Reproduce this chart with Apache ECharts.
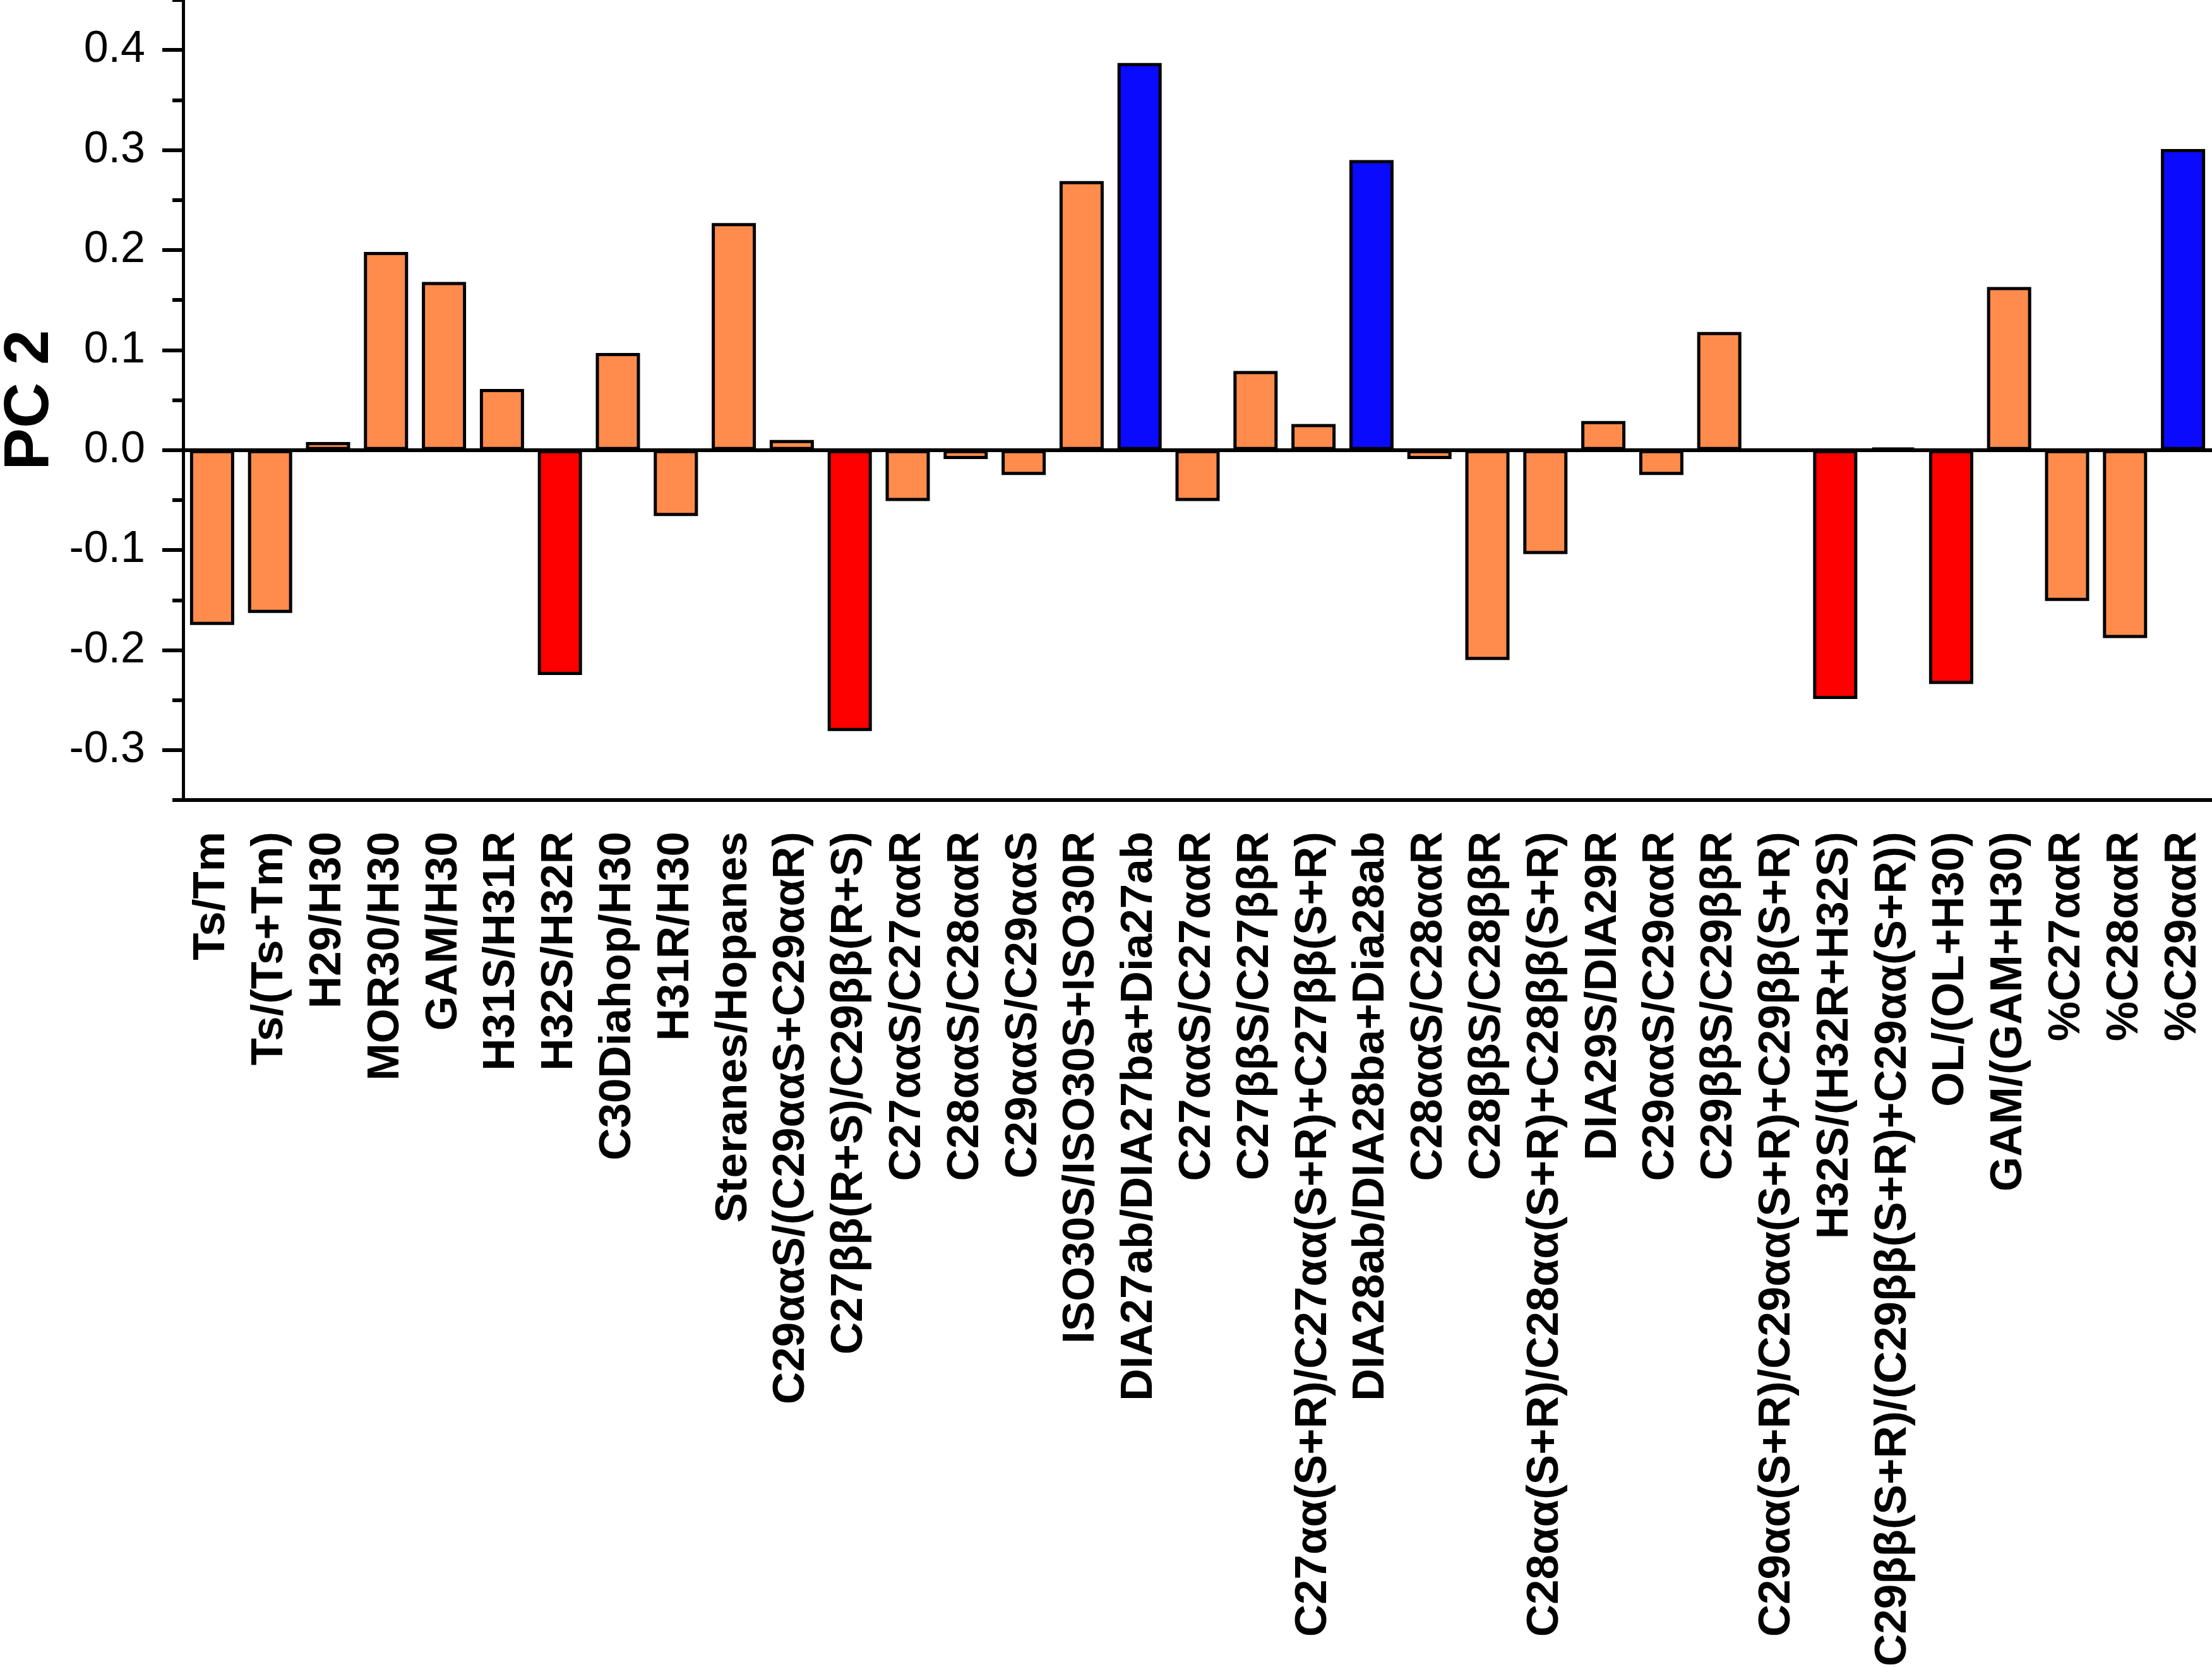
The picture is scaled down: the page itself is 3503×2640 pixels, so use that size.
<!DOCTYPE html>
<html>
<head>
<meta charset="utf-8">
<title>PC 2 loadings</title>
<script src="https://cdn.jsdelivr.net/npm/echarts@6/dist/echarts.min.js"></script>
<style>
  html, body {margin: 0; padding: 0; background: #fff;}
  #chart {width: 3503px; height: 2640px;}
</style>
</head>
<body>
<div id="chart"></div>
<script>
const categories = [
  'Ts/Tm', 'Ts/(Ts+Tm)', 'H29/H30', 'MOR30/H30', 'GAM/H30', 'H31S/H31R', 'H32S/H32R',
  'C30Diahop/H30', 'H31R/H30', 'Steranes/Hopanes', 'C29ααS/(C29ααS+C29ααR)',
  'C27ββ(R+S)/C29ββ(R+S)', 'C27ααS/C27ααR', 'C28ααS/C28ααR', 'C29ααS/C29ααS',
  'ISO30S/ISO30S+ISO30R', 'DIA27ab/DIA27ba+Dia27ab', 'C27ααS/C27ααR', 'C27ββS/C27ββR',
  'C27αα(S+R)/C27αα(S+R)+C27ββ(S+R)', 'DIA28ab/DIA28ba+Dia28ab', 'C28ααS/C28ααR',
  'C28ββS/C28ββR', 'C28αα(S+R)/C28αα(S+R)+C28ββ(S+R)', 'DIA29S/DIA29R', 'C29ααS/C29ααR',
  'C29ββS/C29ββR', 'C29αα(S+R)/C29αα(S+R)+C29ββ(S+R)', 'H32S/(H32R+H32S)',
  'C29ββ(S+R)/(C29ββ(S+R)+C29αα(S+R))', 'OL/(OL+H30)', 'GAM/(GAM+H30)',
  '%C27ααR', '%C28ααR', '%C29ααR'
];

const pc2 = [
  -0.175, -0.163, 0.008, 0.198, 0.168, 0.061, -0.225,
  0.097, -0.066, 0.227, 0.010,
  -0.281, -0.051, -0.009, -0.025,
  0.269, 0.387, -0.051, 0.079,
  0.026, 0.290, -0.009,
  -0.210, -0.104, 0.029, -0.025,
  0.118, -0.001, -0.249,
  0.002, -0.234, 0.163,
  -0.151, -0.188, 0.301
];

// o = ordinary, r = strong negative, b = strong positive
const groups = [
  'o', 'o', 'o', 'o', 'o', 'o', 'r',
  'o', 'o', 'o', 'o',
  'r', 'o', 'o', 'o',
  'o', 'b', 'o', 'o',
  'o', 'b', 'o',
  'o', 'o', 'o', 'o',
  'o', 'o', 'r',
  'o', 'r', 'o',
  'o', 'o', 'b'
];

const yMajorTicks = [-0.3, -0.2, -0.1, 0.0, 0.1, 0.2, 0.3, 0.4];
const yMinorTicks = [-0.35, -0.25, -0.15, -0.05, 0.05, 0.15, 0.25, 0.35, 0.45];

const groupColors = {o: '#ff8c4c', r: '#ff0000', b: '#0a0aff'};
const fontFamily = '"Liberation Sans", Arial, Helvetica, sans-serif';
const axisColor = '#000';
const lineW = 6;

const chart = echarts.init(document.getElementById('chart'), null, {renderer: 'canvas'});

const baseXAxis = {
  type: 'category',
  data: categories,
  position: 'bottom',
  boundaryGap: true,
  axisLine: {onZero: false, lineStyle: {color: axisColor, width: lineW}},
  splitLine: {show: false}
};

chart.setOption({
  animation: false,
  backgroundColor: '#fff',
  grid: {left: 290, right: 0, top: 0, bottom: 1373, containLabel: false, outerBoundsMode: 'none'},
  xAxis: [
    Object.assign({}, baseXAxis, {
      axisTick: {alignWithLabel: true, length: 33, lineStyle: {color: axisColor, width: lineW}},
      axisLabel: {
        interval: 0,
        rotate: 90,
        margin: 50,
        color: '#000',
        fontSize: 71,
        fontWeight: 'bold',
        fontFamily: fontFamily
      }
    }),
    Object.assign({}, baseXAxis, {
      axisTick: {length: 17, lineStyle: {color: axisColor, width: lineW}},
      axisLabel: {show: false}
    })
  ],
  yAxis: [
    {
      type: 'value',
      min: -0.35,
      max: 0.45,
      name: 'PC 2',
      nameLocation: 'middle',
      nameGap: 190,
      nameTextStyle: {color: '#000', fontSize: 100, fontWeight: 'bold', fontFamily: fontFamily},
      axisLine: {show: true, lineStyle: {color: axisColor, width: 5}},
      axisTick: {show: true, length: 33, customValues: yMajorTicks, lineStyle: {color: axisColor, width: lineW}},
      axisLabel: {
        customValues: yMajorTicks,
        margin: 60,
        color: '#000',
        fontSize: 70,
        fontFamily: fontFamily,
        formatter: (v) => v.toFixed(1)
      },
      splitLine: {show: false}
    },
    {
      type: 'value',
      min: -0.35,
      max: 0.45,
      position: 'left',
      axisLine: {show: false},
      axisTick: {show: true, length: 17, customValues: yMinorTicks, lineStyle: {color: axisColor, width: lineW}},
      axisLabel: {show: false},
      splitLine: {show: false}
    }
  ],
  series: [
    {
      type: 'bar',
      xAxisIndex: 0,
      yAxisIndex: 0,
      barWidth: 70,
      data: pc2.map((v, i) => ({
        value: v,
        itemStyle: {color: groupColors[groups[i]]}
      })),
      itemStyle: {borderColor: '#000', borderWidth: 5},
      markLine: {
        silent: true,
        symbol: ['none', 'none'],
        label: {show: false},
        lineStyle: {color: '#000', width: lineW, type: 'solid'},
        data: [{yAxis: 0}]
      }
    }
  ]
});
</script>
</body>
</html>
